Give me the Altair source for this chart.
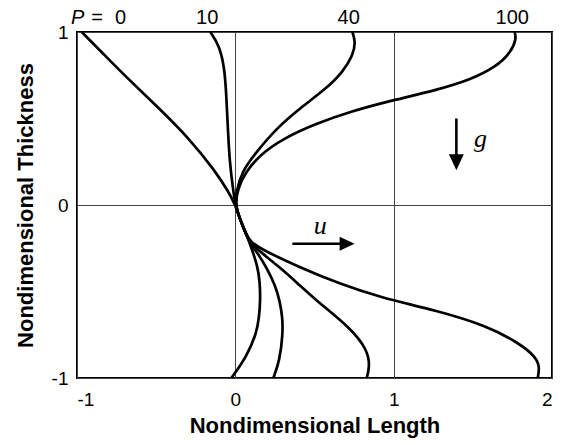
import altair as alt
import pandas as pd

# Velocity profiles u(z) across the film for several pressure parameters P
P0_u = [-0.97, -0.83, -0.689, -0.478, -0.29, -0.13, -0.045, 0.0, 0.025, 0.055, 0.09, 0.143, 0.155, 0.158, 0.15, 0.133, 0.069, -0.025]
P0_z = [1.0, 0.87, 0.739, 0.556, 0.383, 0.2, 0.08, 0.0, -0.07, -0.14, -0.215, -0.36, -0.45, -0.552, -0.65, -0.745, -0.88, -1.0]

P10_u = [-0.158, -0.10, -0.068, -0.057, -0.047, -0.036, -0.015, 0.0, 0.025, 0.055, 0.09, 0.143, 0.196, 0.25, 0.28, 0.298, 0.30, 0.28, 0.24]
P10_z = [1.0, 0.92, 0.79, 0.635, 0.44, 0.25, 0.095, 0.0, -0.07, -0.14, -0.215, -0.282, -0.36, -0.46, -0.552, -0.65, -0.745, -0.9, -1.0]

P40_u = [0.739, 0.76, 0.743, 0.68, 0.575, 0.406, 0.259, 0.133, 0.04, 0.006, 0.0, 0.025, 0.055, 0.09, 0.17, 0.28, 0.39, 0.51, 0.722, 0.838, 0.848, 0.83]
P40_z = [1.0, 0.943, 0.866, 0.77, 0.673, 0.558, 0.442, 0.307, 0.192, 0.076, 0.0, -0.07, -0.14, -0.215, -0.28, -0.36, -0.45, -0.552, -0.706, -0.84, -0.937, -1.0]

P100_u = [1.764, 1.775, 1.743, 1.649, 1.48, 1.27, 0.996, 0.722, 0.512, 0.30, 0.153, 0.065, 0.015, 0.0, 0.025, 0.055, 0.09, 0.196, 0.406, 0.659, 0.911, 1.27, 1.585, 1.796, 1.90, 1.922, 1.91]
P100_z = [1.0, 0.962, 0.886, 0.799, 0.722, 0.664, 0.606, 0.539, 0.471, 0.384, 0.288, 0.19, 0.095, 0.0, -0.07, -0.14, -0.215, -0.27, -0.36, -0.456, -0.533, -0.61, -0.697, -0.80, -0.88, -0.937, -1.0]

# Curve labels along the top edge
TOP_LABELS = ["0", "10", "40", "100"]
TOP_LABEL_U = [-0.725, -0.178, 0.716, 1.749]
TOP_LABEL_Z = 1.047

# Direction arrows (flow u and gravity g)
U_ARROW_U = [0.36, 0.70]
U_ARROW_Z = -0.224
U_HEAD = (0.706, -0.224)
U_TEXT = (0.537, -0.166)
G_ARROW_U = 1.396
G_ARROW_Z = [0.50, 0.26]
G_HEAD = (1.396, 0.247)
G_TEXT = (1.548, 0.338)

rows = []
for name, us, zs in [("0", P0_u, P0_z), ("10", P10_u, P10_z),
                     ("40", P40_u, P40_z), ("100", P100_u, P100_z)]:
    for i, (u, z) in enumerate(zip(us, zs)):
        rows.append({"P": name, "u": u, "z": z, "i": i})
curves_df = pd.DataFrame(rows)

x_scale = alt.Scale(domain=[-1, 2], nice=False, zero=False)
y_scale = alt.Scale(domain=[-1, 1], nice=False, zero=False)

FONT = "Liberation Sans"

curves = alt.Chart(curves_df).mark_line(
    color="black", strokeWidth=2.7, interpolate="basis"
).encode(
    x=alt.X("u:Q", scale=x_scale,
            axis=alt.Axis(values=[-1, 0, 1, 2], title="Nondimensional Length",
                          labelExpr="datum.value + ''", grid=True, gridColor="#444",
                          gridWidth=1, ticks=False, tickSize=0, domain=False,
                          labelPadding=12, labelFontSize=19, labelFont=FONT,
                          labelColor="black", titleFont=FONT, titleFontSize=22,
                          titleFontWeight="bold", titleColor="black",
                          titleX=237.5, titleY=54, titleBaseline="alphabetic",
                          titleAlign="center")),
    y=alt.Y("z:Q", scale=y_scale,
            axis=alt.Axis(values=[-1, 0, 1], title="Nondimensional Thickness",
                          labelExpr="datum.value + ''", grid=True, gridColor="#444",
                          gridWidth=1, ticks=False, tickSize=0, domain=False,
                          labelPadding=9, labelFontSize=19, labelFont=FONT,
                          labelColor="black", titleFont=FONT, titleFontSize=22,
                          titleFontWeight="bold", titleColor="black",
                          titleAngle=270, titleX=-52, titleY=173,
                          titleBaseline="middle", titleAlign="center")),
    detail="P:N",
    order="i:Q",
)

labels_df = pd.DataFrame({"u": TOP_LABEL_U, "z": [TOP_LABEL_Z] * 4, "t": TOP_LABELS})
top_labels = alt.Chart(labels_df).mark_text(
    font=FONT, fontSize=20, baseline="alphabetic", align="center", color="black"
).encode(x=alt.X("u:Q", scale=x_scale), y=alt.Y("z:Q", scale=y_scale), text="t:N")

p_df = pd.DataFrame({"u": [-0.996], "z": [TOP_LABEL_Z], "t": ["P"]})
p_label = alt.Chart(p_df).mark_text(
    font=FONT, fontSize=20, fontStyle="italic", baseline="alphabetic",
    align="center", color="black"
).encode(x=alt.X("u:Q", scale=x_scale), y=alt.Y("z:Q", scale=y_scale), text="t:N")

eq_df = pd.DataFrame({"u": [-0.873], "z": [TOP_LABEL_Z], "t": ["="]})
eq_label = alt.Chart(eq_df).mark_text(
    font=FONT, fontSize=20, baseline="alphabetic", align="center", color="black"
).encode(x=alt.X("u:Q", scale=x_scale), y=alt.Y("z:Q", scale=y_scale), text="t:N")

# Flow arrow u
u_shaft = alt.Chart(pd.DataFrame({"u": [U_ARROW_U[0]], "u2": [U_ARROW_U[1]], "z": [U_ARROW_Z]})).mark_rule(
    color="black", strokeWidth=2.6
).encode(x=alt.X("u:Q", scale=x_scale), x2="u2:Q", y=alt.Y("z:Q", scale=y_scale))
u_head = alt.Chart(pd.DataFrame({"u": [U_HEAD[0]], "z": [U_HEAD[1]]})).mark_point(
    shape="M-1,-0.93L1,0L-1,0.93Z", size=225, filled=True, color="black", opacity=1, strokeWidth=0
).encode(x=alt.X("u:Q", scale=x_scale), y=alt.Y("z:Q", scale=y_scale))
u_text = alt.Chart(pd.DataFrame({"u": [U_TEXT[0]], "z": [U_TEXT[1]], "t": ["u"]})).mark_text(
    font="Liberation Serif", fontSize=26, fontStyle="italic", baseline="alphabetic",
    align="center", color="black"
).encode(x=alt.X("u:Q", scale=x_scale), y=alt.Y("z:Q", scale=y_scale), text="t:N")

# Gravity arrow g
g_shaft = alt.Chart(pd.DataFrame({"u": [G_ARROW_U], "z": [G_ARROW_Z[0]], "z2": [G_ARROW_Z[1]]})).mark_rule(
    color="black", strokeWidth=2.6
).encode(x=alt.X("u:Q", scale=x_scale), y=alt.Y("z:Q", scale=y_scale), y2="z2:Q")
g_head = alt.Chart(pd.DataFrame({"u": [G_HEAD[0]], "z": [G_HEAD[1]]})).mark_point(
    shape="M-0.93,-1L0.93,-1L0,1Z", size=256, filled=True, color="black", opacity=1, strokeWidth=0
).encode(x=alt.X("u:Q", scale=x_scale), y=alt.Y("z:Q", scale=y_scale))
g_text = alt.Chart(pd.DataFrame({"u": [G_TEXT[0]], "z": [G_TEXT[1]], "t": ["g"]})).mark_text(
    font="Liberation Serif", fontSize=26, fontStyle="italic", baseline="alphabetic",
    align="center", color="black"
).encode(x=alt.X("u:Q", scale=x_scale), y=alt.Y("z:Q", scale=y_scale), text="t:N")

chart = alt.layer(
    curves, top_labels, p_label, eq_label,
    u_shaft, u_head, u_text, g_shaft, g_head, g_text
).properties(
    width=475, height=346,
    autosize=alt.AutoSizeParams(type="none"),
    padding={"left": 77, "top": 32, "right": 11, "bottom": 67},
    background="white",
).configure_view(
    stroke="black", strokeWidth=2
)

chart.save("out.html", embed_options={"renderer": "svg", "actions": False})
